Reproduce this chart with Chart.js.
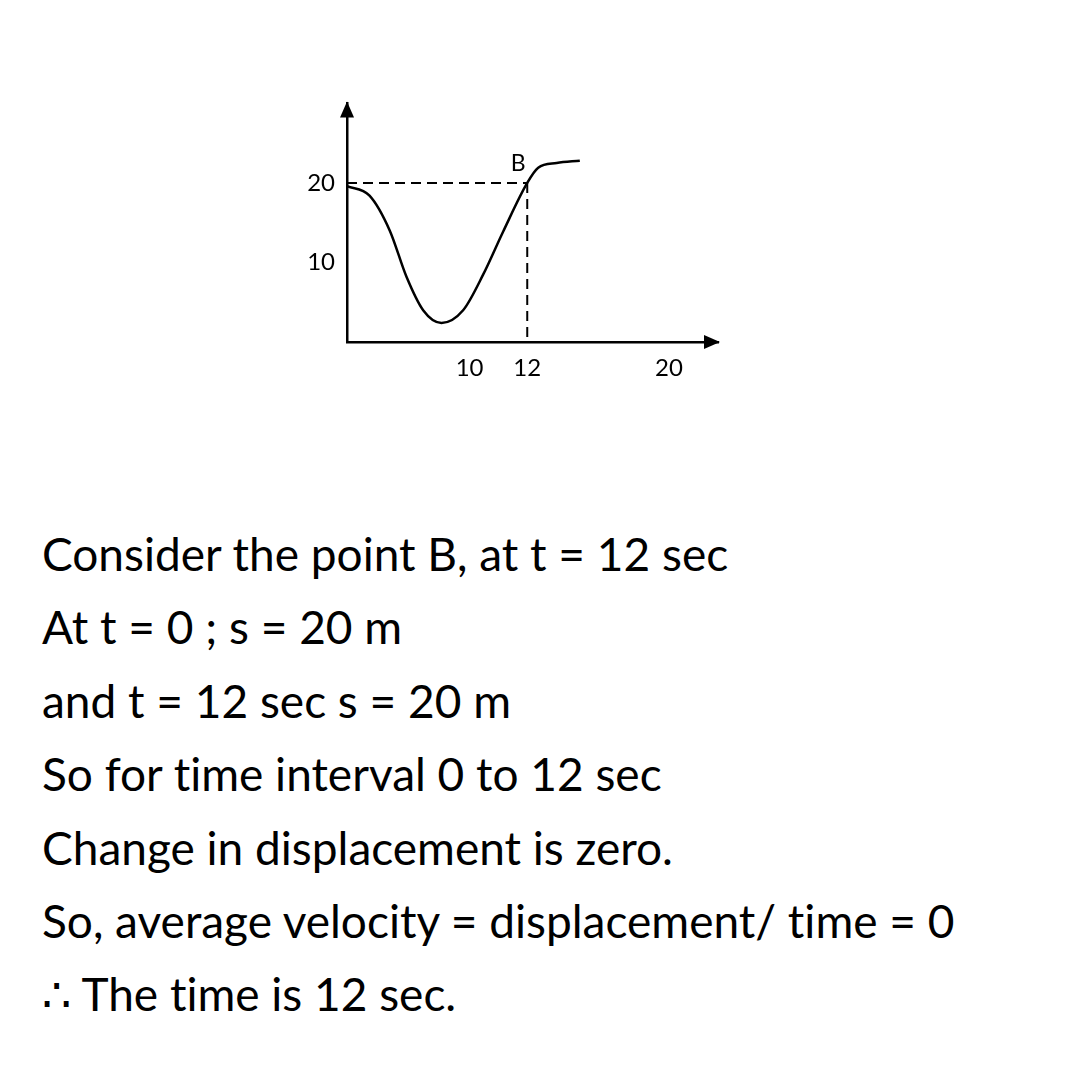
<!DOCTYPE html>
<html>
<head>
<meta charset="utf-8">
<script src="https://cdn.jsdelivr.net/npm/chart.js@4"></script>
<style>
  html, body { margin: 0; padding: 0; background: #fff; }
  body { width: 1080px; height: 1080px; position: relative; overflow: hidden; }
  #wrap { position: absolute; left: 290px; top: 77px; width: 440px; height: 313px; }
  #notes { position: absolute; left: 42px; top: 517px; font-family: Lato, sans-serif; font-size: 46px; line-height: 73.4px; color: #000; white-space: nowrap; font-variant-ligatures: none; }
</style>
</head>
<body>
<div id="wrap"><canvas id="graph" width="440" height="313"></canvas></div>
<div id="notes">
  <div>Consider the point B, at t = 12 sec</div>
  <div>At t = 0 ; s = 20 m</div>
  <div>and t = 12 sec s = 20 m</div>
  <div>So for time interval 0 to 12 sec</div>
  <div>Change in displacement is zero.</div>
  <div>So, average velocity = displacement/ time = 0</div>
  <div>∴ The time is 12 sec.</div>
</div>
<script>
// curve (t in sec, s in m)
const timeValues = [0, 1.5, 2.85, 3.96, 5.07, 6.29, 7.73, 9.07, 10.4, 12, 12.73, 13.96, 15.5];
const dispValues = [19.6, 18.4, 14.0, 8.2, 4.0, 2.4, 4.0, 8.5, 13.9, 20, 21.9, 22.5, 22.8];

// point B and the tick labels
const pointB = { t: 12, s: 20, label: 'B' };
const xTicks = [10, 12, 20];
const yTicks = [10, 20];

const tickFont = { family: 'Lato, sans-serif', size: 24 };

// the sketch is not to scale: nudge the 10 and 20 labels like the drawing does
const labelNudge = { 10: -9, 20: 7 };
const nudgeLabel = (value) => {
  const n = labelNudge[value] || 0;
  const pad = ' '.repeat(Math.abs(n));
  return n < 0 ? value + pad : pad + value;
};

// arrow heads on the axes + label for B
const sketchPlugin = {
  id: 'sketch',
  afterDraw(chart) {
    const { ctx, chartArea, scales } = chart;
    ctx.save();
    ctx.fillStyle = '#000';
    // y arrow
    ctx.beginPath();
    ctx.moveTo(chartArea.left, chartArea.top - 2);
    ctx.lineTo(chartArea.left - 7, chartArea.top + 14);
    ctx.lineTo(chartArea.left + 7, chartArea.top + 14);
    ctx.closePath();
    ctx.fill();
    // x arrow
    ctx.beginPath();
    ctx.moveTo(chartArea.right + 2, chartArea.bottom);
    ctx.lineTo(chartArea.right - 14, chartArea.bottom - 7);
    ctx.lineTo(chartArea.right - 14, chartArea.bottom + 7);
    ctx.closePath();
    ctx.fill();
    // B label
    const bx = scales.x.getPixelForValue(pointB.t);
    const by = scales.y.getPixelForValue(pointB.s);
    ctx.font = '23px Lato, sans-serif';
    ctx.textAlign = 'center';
    ctx.textBaseline = 'bottom';
    ctx.fillText(pointB.label, bx - 9, by - 8);
    ctx.restore();
  },
};

const dashed = {
  borderColor: '#000',
  borderWidth: 2,
  borderDash: [10, 6],
  pointRadius: 0,
  fill: false,
  tension: 0,
};

new Chart(document.getElementById('graph'), {
  type: 'line',
  data: {
    datasets: [
      {
        data: timeValues.map((t, i) => ({ x: t, y: dispValues[i] })),
        borderColor: '#000',
        borderWidth: 2.5,
        pointRadius: 0,
        fill: false,
        cubicInterpolationMode: 'monotone',
      },
      {
        data: [{ x: 0, y: pointB.s }, { x: pointB.t, y: pointB.s }],
        ...dashed,
      },
      {
        data: [{ x: pointB.t, y: pointB.s }, { x: pointB.t, y: 0 }],
        ...dashed,
      },
    ],
  },
  options: {
    responsive: false,
    animation: false,
    layout: {
      padding: { top: 10, right: 12, left: 0, bottom: 0 },
    },
    plugins: {
      legend: false,
      tooltip: { enabled: false },
    },
    scales: {
      x: {
        type: 'linear',
        min: 0,
        max: 24.7,
        afterBuildTicks: (scale) => {
          scale.ticks = xTicks.map((v) => ({ value: v }));
        },
        afterFit: (scale) => {
          scale.height = 48;
        },
        ticks: {
          color: '#000',
          font: tickFont,
          padding: 12,
          maxRotation: 0,
          autoSkip: false,
          callback: nudgeLabel,
        },
        grid: { display: false, drawTicks: false },
        border: { color: '#000', width: 2.5 },
      },
      y: {
        type: 'linear',
        min: 0,
        max: 30,
        afterBuildTicks: (scale) => {
          scale.ticks = yTicks.map((v) => ({ value: v }));
        },
        afterFit: (scale) => {
          scale.width = 57;
        },
        ticks: {
          color: '#000',
          font: tickFont,
          padding: 12,
        },
        grid: { display: false, drawTicks: false },
        border: { color: '#000', width: 2.5 },
      },
    },
  },
  plugins: [sketchPlugin],
});
</script>
</body>
</html>
